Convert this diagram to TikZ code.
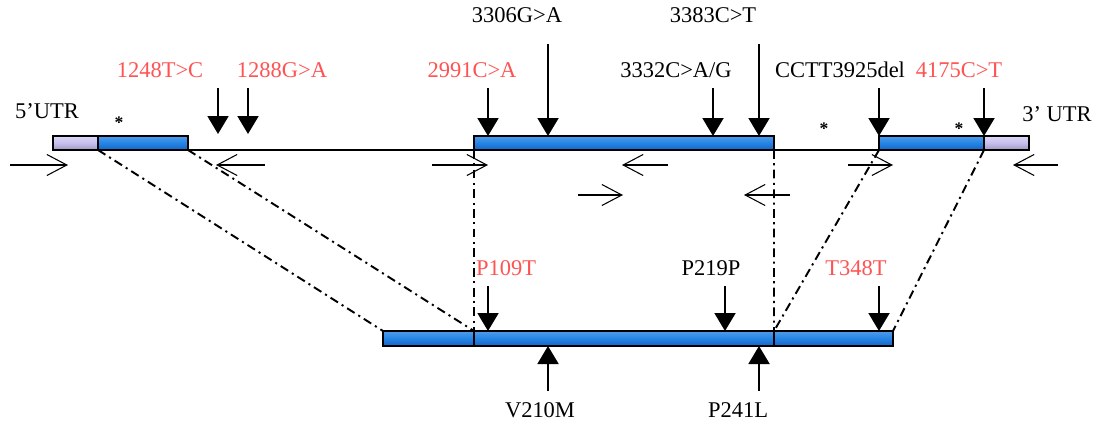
\documentclass[tikz,border=0pt]{standalone}
\usepackage{fontspec}
\setmainfont{Liberation Serif}
\usetikzlibrary{positioning, arrows.meta}
\definecolor{exonblue}{HTML}{2484E4}
\definecolor{exondark}{HTML}{1565C8}
\definecolor{utrlilac}{HTML}{C6BEEE}
\definecolor{mutred}{HTML}{FF5252}

\begin{document}
\begin{tikzpicture}[
        x=0.02cm, y=-0.02cm,
        font=\fontsize{12.8}{15}\selectfont,
        exon/.style={rectangle, draw, line width=1.1pt, inner sep=0pt, outer sep=0pt, minimum height=0.28cm, top color=exonblue!80!white, bottom color=exondark, middle color=exonblue},
        utr/.style={exon, top color=utrlilac!60!white, bottom color=utrlilac!80!black, middle color=utrlilac},
        cds/.style={exon, minimum height=0.3cm},
        intron/.style={line width=0.8pt},
        splice/.style={line width=1.1pt, dash pattern=on 5pt off 2.5pt on 1.2pt off 2.5pt},
        mut/.style={-{Triangle[length=0.36cm, width=0.42cm]}, line width=1.1pt},
        primer/.style={-{Straight Barb[length=0.4cm, width=0.42cm]}, line width=0.6pt},
        lbl/.style={inner sep=1pt},
        red lbl/.style={lbl, text=mutred},
        star/.style={lbl, font=\bfseries}
    ]
    \useasboundingbox (0,0) rectangle (1095,423);

    % gene
    \node (utr5) [utr, minimum width=0.9cm] at (75.5,143) {};
    \node (ex1) [exon, minimum width=1.8cm] at (143,143) {};
    \node (ex2) [exon, minimum width=6cm] at (624,143) {};
    \node (ex3) [exon, minimum width=2.1cm] at (931.5,143) {};
    \node (utr3) [utr, minimum width=0.9cm] at (1006.5,143) {};

    \draw [intron] (ex1.south east) -- (ex2.south west);
    \draw [intron] (ex2.south east) -- (ex3.south west);

    \node (l5utr) [lbl] at (47,111) {5'UTR};
    \node (l3utr) [lbl] at (1057,114) {3' UTR};
    \node (st1) [star] at (119,123) {*};
    \node (st2) [star] at (824,129) {*};
    \node (st3) [star] at (959,129) {*};

    % cDNA
    \node (m1) [cds, minimum width=1.82cm] at (428.5,338.5) {};
    \node (m2) [cds, minimum width=6cm] at (624,338.5) {};
    \node (m3) [cds, minimum width=2.38cm] at (833.5,338.5) {};

    \draw [splice] (ex1.south west) -- (m1.north west);
    \draw [splice] (ex1.south east) -- (m2.north west);
    \draw [splice] (ex2.south west) -- (m2.north west);
    \draw [splice] (ex2.south east) -- (m3.north west);
    \draw [splice] (ex3.south west) -- (m3.north west);
    \draw [splice] (ex3.south east) -- (m3.north east);

    % primers
    \coordinate (pa1) at (10,165);  \coordinate (pa2) at (68,165);
    \coordinate (pb1) at (265,165); \coordinate (pb2) at (216,165);
    \coordinate (pc1) at (432,165); \coordinate (pc2) at (488,165);
    \coordinate (pd1) at (668,165); \coordinate (pd2) at (622,165);
    \coordinate (pe1) at (578,195); \coordinate (pe2) at (623,195);
    \coordinate (pf1) at (790,195); \coordinate (pf2) at (744,195);
    \coordinate (pg1) at (848,165); \coordinate (pg2) at (893,165);
    \coordinate (ph1) at (1058,165); \coordinate (ph2) at (1013,165);
    \foreach \p in {a,b,c,d,e,f,g,h}
        \draw [primer] (p\p1) -- (p\p2);

    % variants in the gene
    \node (v1248) [red lbl] at (160,70) {1248T>C};
    \node (v1288) [red lbl] at (282,70) {1288G>A};
    \node (v2991) [red lbl] at (472,70) {2991C>A};
    \node (v3306) [lbl] at (517,15) {3306G>A};
    \node (v3332) [lbl] at (676,70) {3332C>A/G};
    \node (v3383) [lbl] at (713,15) {3383C>T};
    \node (v3925) [lbl] at (840,70) {CCTT3925del};
    \node (v4175) [red lbl] at (959,70) {4175C>T};

    \coordinate (i1248) at (218,134);
    \coordinate (i1288) at (248,134);
    \draw [mut] (218,88) -- (i1248);
    \draw [mut] (248,88) -- (i1288);
    \draw [mut] (488,88) -- (ex2.north -| 488,0);
    \draw [mut] (548,44) -- (ex2.north -| 548,0);
    \draw [mut] (713,88) -- (ex2.north -| 713,0);
    \draw [mut] (759,44) -- (ex2.north -| 759,0);
    \draw [mut] (ex3.north west |- 0,88) -- (ex3.north west);
    \draw [mut] (utr3.north west |- 0,88) -- (utr3.north west);

    % variants in the protein
    \node (p109) [red lbl] at (506,268) {P109T};
    \node (p219) [lbl] at (711,268) {P219P};
    \node (t348) [red lbl] at (856,268) {T348T};
    \node (v210) [lbl] at (540,410) {V210M};
    \node (p241) [lbl] at (738,410) {P241L};

    \draw [mut] (488,286) -- (m2.north -| 488,0);
    \draw [mut] (725,286) -- (m2.north -| 725,0);
    \draw [mut] (879,286) -- (m3.north -| 879,0);
    \draw [mut] (548,391) -- (m2.south -| 548,0);
    \draw [mut] (759,391) -- (m2.south -| 759,0);
\end{tikzpicture}
\end{document}
